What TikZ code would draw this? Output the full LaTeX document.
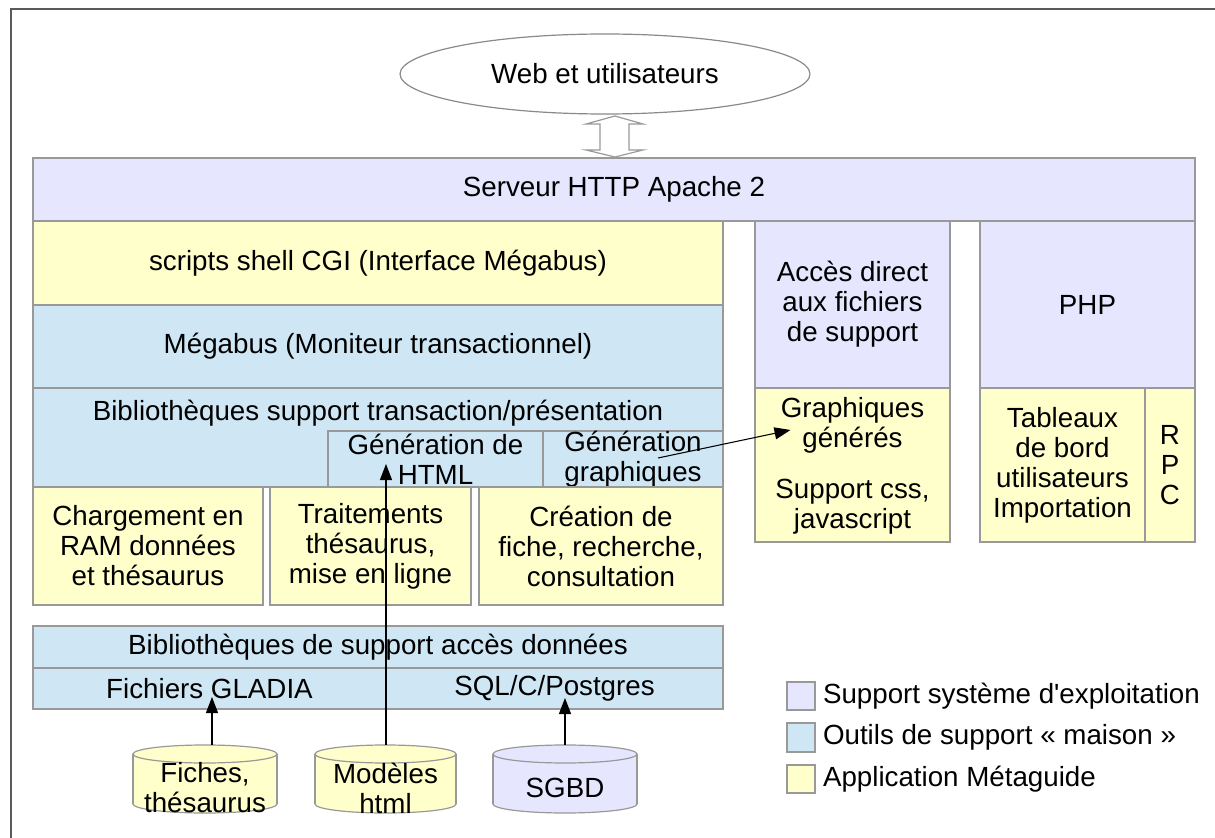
\documentclass[tikz,border=0pt]{standalone}
\usepackage{fontspec}
\setmainfont{Liberation Sans}
\usetikzlibrary{arrows.meta,calc,shapes.geometric}
\definecolor{cpurple}{HTML}{E6E6FF}
\definecolor{cblue}{HTML}{CFE7F5}
\definecolor{cyellow}{HTML}{FFFFCC}
\definecolor{cline}{HTML}{999999}
\definecolor{cframe}{HTML}{5A5A5A}
% box: style, name, x1, x2, y1, y2, text
\newcommand\bx[7]{\node[#1, minimum width={(#4-#3)*0.75pt}, minimum height={(#6-#5)*0.75pt}] (#2) at ({(#3+#4)/2},{(#5+#6)/2}) {#7};}
% cylinder: name, cx, rx, fill, text
\newcommand\cyl[5]{%
  \filldraw[fill=#4,draw=cline,line width=0.9pt] (#2,804) ellipse [x radius={#3*0.75pt}, y radius=6.75pt];
  \fill[#4] ({#2-#3},754) rectangle ({#2+#3},804);
  \draw[cline,line width=0.9pt] ({#2-#3},754) -- ({#2-#3},804) ({#2+#3},754) -- ({#2+#3},804);
  \filldraw[fill=#4,draw=cline,line width=0.9pt] (#2,754) ellipse [x radius={#3*0.75pt}, y radius=6.75pt];
  \coordinate (#1-top) at (#2,745);
  \node (#1) at (#2,788) {#5};
}
\begin{document}
\begin{tikzpicture}[x=0.75pt,y=-0.75pt,
  every node/.style={font=\fontsize{20.8pt}{22.5pt}\selectfont, inner sep=0pt, outer sep=0pt, align=center},
  box/.style={draw=cline, line width=0.9pt, rectangle},
  pbox/.style={box, fill=cpurple},
  bbox/.style={box, fill=cblue},
  ybox/.style={box, fill=cyellow},
  arr/.style={-{Triangle[length=12pt,width=9pt]}, line width=0.8pt, black},
]
\useasboundingbox (0,0) rectangle (1215,838);
\fill[white] (0,0) rectangle (1215,838);
\draw[cframe, line width=1.5pt] (10.5,838) -- (10.5,9.5) -- (1215,9.5);

% top
\node[ellipse, draw=cline!90!black, line width=0.9pt, fill=white, minimum width={410*0.75pt}, minimum height={80*0.75pt}] (web) at (605,74) {Web et utilisateurs};
\draw[cline, fill=white, line width=0.9pt] (615,116) -- (643,124) -- (629,124) -- (629,150) -- (643,150) -- (615,157) -- (586,150) -- (600,150) -- (600,124) -- (586,124) -- cycle;

\bx{pbox}{serveur}{33}{1195}{158}{221}{Serveur HTTP Apache 2}
\bx{ybox}{scripts}{33}{723}{221}{305}{scripts shell CGI (Interface Mégabus)}
\bx{bbox}{megabus}{33}{723}{305}{388}{Mégabus (Moniteur transactionnel)}
\bx{bbox}{biblio}{33}{723}{388}{487}{}
\node (bibliot) at (378,413) {Bibliothèques support transaction/présentation};
\bx{bbox}{genhtml}{328}{543}{431}{487}{Génération de\\HTML}
\bx{bbox}{gengraph}{543}{723}{431}{487}{Génération\\graphiques}
\bx{ybox}{charg}{33}{263}{487}{605}{Chargement en\\RAM données\\et thésaurus}
\bx{ybox}{trait}{270}{471}{487}{605}{Traitements\\thésaurus,\\mise en ligne}
\bx{ybox}{creat}{479}{723}{487}{605}{Création de\\fiche, recherche,\\consultation}

\bx{pbox}{acces}{755}{950}{221}{388}{Accès direct\\aux fichiers\\de support}
\bx{ybox}{graphgen}{755}{950}{388}{542}{}
\node (ggtext) at (852.5,425) {Graphiques\\générés};
\node (csstext) at (852.5,507) {Support css,\\javascript};
\bx{pbox}{php}{980}{1195}{221}{388}{PHP}
\bx{ybox}{tableaux}{980}{1145}{388}{542}{Tableaux\\de bord\\utilisateurs\\Importation}
\bx{ybox}{rpc}{1145}{1195}{388}{542}{R\\P\\C}

\bx{bbox}{bsad}{33}{723}{626}{668}{Bibliothèques de support accès données}
\bx{bbox}{gladia}{33}{386}{668}{709}{Fichiers GLADIA}
\bx{bbox}{sql}{386}{723}{668}{709}{SQL/C/Postgres}

\cyl{fiches}{205}{72}{cyellow}{Fiches,\\thésaurus}
\cyl{modeles}{385.5}{70.5}{cyellow}{Modèles\\html}
\cyl{sgbd}{565}{72}{cpurple}{SGBD}

% legend
\bx{pbox}{leg1}{787}{815}{682}{710}{}
\bx{bbox}{leg2}{787}{815}{723}{752}{}
\bx{ybox}{leg3}{787}{815}{765}{793}{}
\node[anchor=west] (leg1t) at ($(leg1.east)+(8,0)$) {Support système d\textquotesingle exploitation};
\node[anchor=west] (leg2t) at ($(leg2.east)+(8,0)$) {Outils de support « maison »};
\node[anchor=west] (leg3t) at ($(leg3.east)+(8,0)$) {Application Métaguide};

% connectors
\draw[arr] ($(fiches-top)+(7,0)$) -- ($(gladia.south)+(2.5,-12)$);
\draw[arr] (sgbd-top) -- ($(sql.south)+(10.5,-11)$);
\draw[arr] ($(modeles-top)+(0.5,0)$) -- ($(genhtml.south west)+(58,-23)$);
\draw[arr] ($(gengraph.center)+(25,-1)$) -- ($(ggtext.center)+(-62,5)$);
\end{tikzpicture}
\end{document}
